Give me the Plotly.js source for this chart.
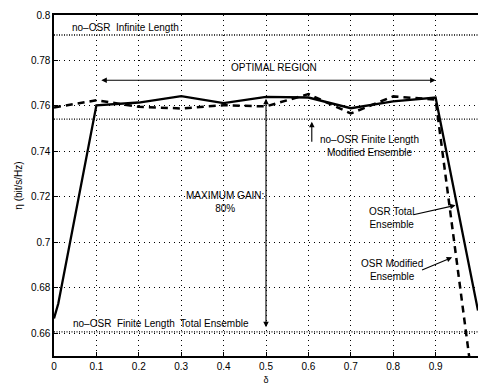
<!DOCTYPE html>
<html>
<head>
<meta charset="utf-8">
<script src="https://cdn.plot.ly/plotly-3.0.1.min.js"></script>
<style>html,body{margin:0;padding:0;background:#fff;}#chart{width:478px;height:385px;}</style>
</head>
<body>
<div id="chart"></div>
<script>
// OSR Total Ensemble (solid)
const totalX = [0, 0.01, 0.1, 0.2, 0.3, 0.4, 0.5, 0.6, 0.7, 0.8, 0.9, 1.0];
const totalY = [0.6665, 0.673, 0.7603, 0.7615, 0.7643, 0.7612, 0.7640, 0.7637, 0.7590, 0.7620, 0.7637, 0.670];
// OSR Modified Ensemble (dashed)
const modX = [0, 0.1, 0.2, 0.3, 0.4, 0.5, 0.6, 0.7, 0.8, 0.9, 1.0];
const modY = [0.7593, 0.7625, 0.7596, 0.7589, 0.7603, 0.7598, 0.7652, 0.7567, 0.7642, 0.7628, 0.620];
// no-OSR reference levels
const refX = [0, 1];
const infiniteLevel = 0.7912;
const finiteModLevel = 0.7542;
const finiteTotLevel = 0.6606;
const xTicks = [0, 0.1, 0.2, 0.3, 0.4, 0.5, 0.6, 0.7, 0.8, 0.9];
const xTickText = ['0', '0.1', '0.2', '0.3', '0.4', '0.5', '0.6', '0.7', '0.8', '0.9'];
const yTicks = [0.66, 0.68, 0.7, 0.72, 0.74, 0.76, 0.78, 0.8];
const yTickText = ['0.66', '0.68', '0.7', '0.72', '0.74', '0.76', '0.78', '0.8'];

const F = 'Liberation Sans, Arial, Helvetica, sans-serif';
const refLine = {color: '#000', width: 1.3, dash: '1px,1.5px'};

const traces = [
  {x: refX, y: [infiniteLevel, infiniteLevel], mode: 'lines', line: refLine, hoverinfo: 'skip'},
  {x: refX, y: [finiteModLevel, finiteModLevel], mode: 'lines', line: refLine, hoverinfo: 'skip'},
  {x: refX, y: [finiteTotLevel, finiteTotLevel], mode: 'lines', line: refLine, hoverinfo: 'skip'},
  {x: modX, y: modY, mode: 'lines', line: {color: '#000', width: 2.5, dash: '7px,5px'}, hoverinfo: 'skip'},
  {x: totalX, y: totalY, mode: 'lines', line: {color: '#000', width: 2.3}, hoverinfo: 'skip'}
];

const txt = {family: F, size: 10, color: '#000'};
const arrow = {showarrow: true, axref: 'x', ayref: 'y', arrowhead: 2, arrowsize: 1, arrowwidth: 1.1, arrowcolor: '#000', text: ''};

const annotations = [
  {x: 0.169, y: 0.7946, text: 'no\u2013OSR  Infinite Length', showarrow: false, font: txt},
  {x: 0.52, y: 0.7767, text: 'OPTIMAL REGION', showarrow: false, font: txt},
  Object.assign({}, arrow, {x: 0.9, y: 0.7713, ax: 0.108, ay: 0.7713, arrowside: 'end+start'}),
  {x: 0.404, y: 0.7176, text: 'MAXIMUM GAIN:<br>80%', showarrow: false, font: txt, align: 'center'},
  Object.assign({}, arrow, {x: 0.5, y: 0.6626, ax: 0.5, ay: 0.7638, arrowside: 'end+start'}),
  {x: 0.745, y: 0.7424, text: 'no\u2013OSR Finite Length<br>Modified Ensemble', showarrow: false, font: txt, align: 'center'},
  Object.assign({}, arrow, {x: 0.608, y: 0.7530, ax: 0.608, ay: 0.7436}),
  {x: 0.796, y: 0.7108, text: 'OSR Total<br>Ensemble', showarrow: false, font: txt, align: 'center'},
  Object.assign({}, arrow, {x: 0.947, y: 0.7163, ax: 0.844, ay: 0.7120}),
  {x: 0.797, y: 0.6880, text: 'OSR Modified<br>Ensemble', showarrow: false, font: txt, align: 'center'},
  Object.assign({}, arrow, {x: 0.939, y: 0.6934, ax: 0.8645, ay: 0.6875}),
  {x: 0.252, y: 0.6643, text: 'no\u2013OSR  Finite Length  Total Ensemble', showarrow: false, font: txt}
];

const layout = {
  width: 478, height: 385,
  margin: {l: 54, r: 0, t: 15, b: 29},
  paper_bgcolor: '#fff', plot_bgcolor: '#fff',
  showlegend: false,
  font: {family: F, size: 10, color: '#000'},
  xaxis: {
    range: [0, 1], tickvals: xTicks, ticktext: xTickText,
    showline: true, linecolor: '#000', linewidth: 1.6, mirror: true,
    ticks: 'inside', ticklen: 4, tickcolor: '#000',
    showgrid: true, gridcolor: '#000', gridwidth: 1, griddash: '1px,4px',
    zeroline: false, tickfont: {family: F, size: 10},
    title: {text: '\u03b4', font: {family: F, size: 9}, standoff: 8}
  },
  yaxis: {
    range: [0.65, 0.8], tickvals: yTicks, ticktext: yTickText,
    showline: true, linecolor: '#000', linewidth: 1.6, mirror: false,
    ticks: 'inside', ticklen: 4, tickcolor: '#000',
    showgrid: true, gridcolor: '#000', gridwidth: 1, griddash: '1px,4px',
    zeroline: false, tickfont: {family: F, size: 10},
    title: {text: '\u03b7 (bit/s/Hz)', font: {family: F, size: 10}, standoff: 6}
  },
  annotations: annotations
};

Plotly.newPlot('chart', traces, layout, {staticPlot: true, displayModeBar: false});
</script>
</body>
</html>
